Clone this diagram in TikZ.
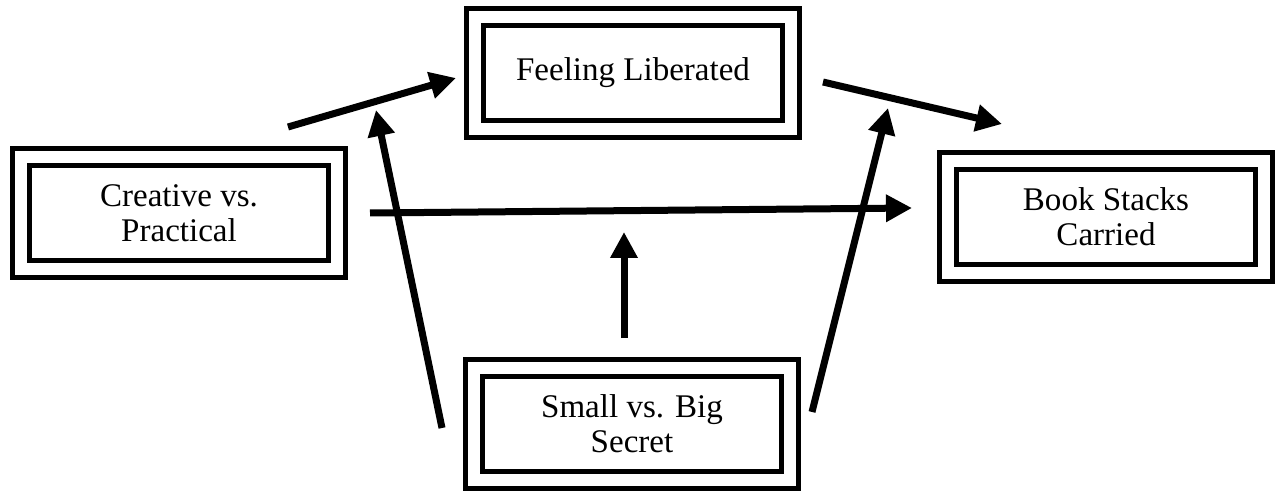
\documentclass[tikz,border=0pt]{standalone}
\usepackage{fontspec}
\setmainfont{Liberation Serif}
\usetikzlibrary{arrows.meta, positioning}

\begin{document}
\begin{tikzpicture}[b/.style={draw=black, line width=0.1cm, double=white, double distance=0.24cm,
      minimum width=6.32cm, minimum height=2.24cm, inner sep=0pt, align=center,
      font=\fontsize{18.8}{20}\selectfont},
      a/.style={line width=0.14cm, -{Triangle[length=0.52cm,width=0.52cm]}}]
      \useasboundingbox (0,0) rectangle (25.52,9.84);

      \draw node[b] (creative) at (3.58,5.58) {Creative vs.\\Practical};
      \draw node[b] (liberated) at (12.66,8.38) {Feeling Liberated};
      \draw node[b] (stacks) at (22.12,5.50) {Book Stacks\\Carried};
      \draw node[b] (secret) at (12.64,1.36) {Small vs. Big\\Secret};

      % free ends of the arrows
      \coordinate (c1) at (5.76,7.30); \coordinate (l1) at (9.12,8.28);
      \coordinate (l2) at (16.46,8.20); \coordinate (s1) at (20.04,7.36);
      \coordinate (c2) at (7.40,5.58); \coordinate (s2) at (18.24,5.68);
      \coordinate (m1) at (12.48,3.08); \coordinate (m2) at (12.48,5.20);
      \coordinate (sl) at (8.84,1.28); \coordinate (ll) at (7.52,7.64);
      \coordinate (sr) at (16.24,1.60); \coordinate (lr) at (17.76,7.68);

      \draw[a] (c1) -- (l1);
      \draw[a] (l2) -- (s1);
      \draw[a] (c2) -- (s2);
      \draw[a] (m1) -- (m2);
      \draw[a] (sl) -- (ll);
      \draw[a] (sr) -- (lr);
\end{tikzpicture}
\end{document}
